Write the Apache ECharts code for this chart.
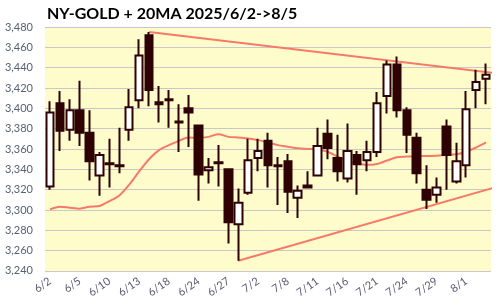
<!DOCTYPE html>
<html>
<head>
<meta charset="utf-8">
<script src="https://cdn.jsdelivr.net/npm/echarts@6/dist/echarts.min.js"></script>
<style>
html,body{margin:0;padding:0;background:#fff;}
#c{width:500px;height:300px;}
</style>
</head>
<body>
<div id="c"></div>
<script>
const dates = ['6/2','6/3','6/4','6/5','6/6','6/9','6/10','6/11','6/12','6/13','6/16','6/17','6/18','6/20','6/23','6/24','6/25','6/26','6/27','6/30','7/1','7/2','7/3','7/7','7/8','7/9','7/10','7/11','7/14','7/15','7/16','7/17','7/18','7/21','7/22','7/23','7/24','7/25','7/28','7/29','7/30','7/31','8/1','8/4','8/5'];
const openV  = [3323,3405,3379,3398,3376,3334,3346,3344,3379,3408,3472,3404,3409,3387,3400,3383,3339,3347,3340,3286,3317,3351,3368,3344,3348,3312,3322,3334,3375,3351,3331,3354,3349,3357,3412,3443,3398,3371,3320,3315,3382,3328,3344,3418,3429];
const closeV = [3396,3378,3398,3376,3348,3354,3345,3343,3401,3452,3418,3406,3408,3386,3396,3335,3342,3346,3288,3307,3349,3358,3344,3343,3318,3319,3324,3363,3361,3338,3358,3345,3357,3405,3443,3398,3374,3336,3310,3322,3354,3348,3399,3426,3433];
const lowV   = [3320,3358,3368,3363,3329,3314,3322,3336,3368,3400,3402,3386,3381,3357,3362,3309,3326,3323,3267,3250,3315,3338,3322,3305,3297,3292,3321,3333,3350,3328,3327,3315,3338,3352,3395,3391,3356,3326,3301,3307,3320,3326,3332,3400,3404];
const highV  = [3407,3417,3409,3427,3398,3357,3370,3381,3419,3468,3475,3422,3418,3404,3413,3384,3351,3364,3341,3321,3370,3370,3376,3352,3355,3324,3338,3381,3389,3374,3385,3358,3368,3416,3447,3451,3401,3376,3344,3332,3389,3366,3417,3438,3444];
const ma20   = [3300.6,3303.2,3302.2,3301.3,3303.2,3303.9,3308.7,3314.2,3324.9,3337.9,3349.9,3358.9,3363.8,3368,3371.3,3370.9,3371.9,3374.5,3371.9,3371.3,3370.3,3368.7,3366.4,3363.8,3362.2,3360.6,3360,3359.5,3357.3,3352.5,3348.2,3346,3344.4,3345.3,3348.6,3351.8,3352.5,3353.1,3353.1,3353.4,3354.1,3354.7,3357.3,3361.5,3366.4];
const upperTrend = [[10,3475],[46,3433.3]];
const lowerTrend = [[19,3250],[46,3325.2]];

const DARK = '#2e0202';
const RED = '#f7796a';
const candles = openV.map((o,i)=>[o, closeV[i], lowV[i], highV[i]]);
const font = 'Lato, "Open Sans", sans-serif';

const chart = echarts.init(document.getElementById('c'), null, {renderer:'canvas'});
chart.setOption({
  animation:false,
  backgroundColor:'#ffffff',
  title:{
    text:'NY-GOLD + 20MA 2025/6/2->8/5',
    left:42, top:1,
    textStyle:{fontFamily:font, fontSize:16, fontWeight:'bold', color:'#000'}
  },
  grid:{left:45, right:9, top:27, bottom:26, show:true, backgroundColor:'#fffccc', borderWidth:0},
  xAxis:[{
    type:'category', data:dates, boundaryGap:true,
    axisLine:{show:false}, axisTick:{show:false},
    axisLabel:{interval:2, rotate:35, fontFamily:font, fontSize:11, color:'#5a5a72', margin:9},
    splitLine:{show:false}
  },{
    type:'value', min:-0.5, max:44.5, show:false
  }],
  yAxis:{
    type:'value', min:3240, max:3480, interval:20,
    axisLine:{show:false}, axisTick:{show:false},
    axisLabel:{fontFamily:font, fontSize:11, color:'#5a6074', margin:12,
      formatter:v=>v.toLocaleString('en-US')},
    splitLine:{lineStyle:{color:'#c8c8c8', width:1}}
  },
  series:[
    {type:'line', data:ma20, showSymbol:false, smooth:0.3, z:2,
     lineStyle:{color:RED, width:2}},
    {type:'line', xAxisIndex:1, data:upperTrend, showSymbol:false, clip:false, z:2,
     lineStyle:{color:RED, width:2}},
    {type:'line', xAxisIndex:1, data:lowerTrend, showSymbol:false, clip:false, z:2,
     lineStyle:{color:RED, width:2}},
    {type:'candlestick', data:candles, barWidth:8, z:3,
     itemStyle:{color:'#ffffff', borderColor:DARK, color0:DARK, borderColor0:DARK, borderWidth:2}}
  ]
});
</script>
</body>
</html>
